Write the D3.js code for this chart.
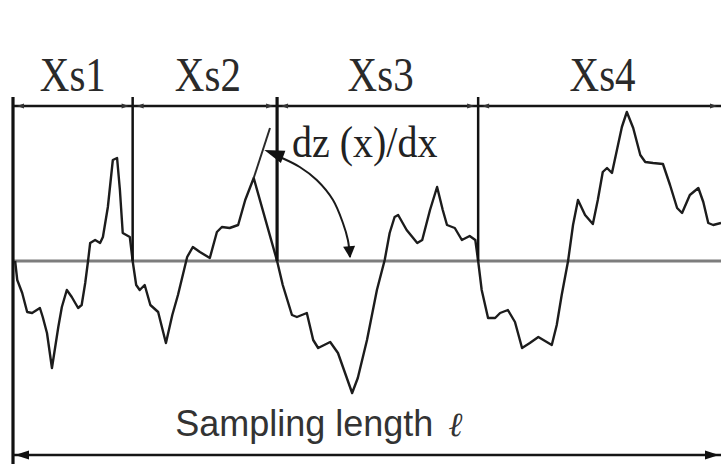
<!DOCTYPE html>
<html>
<head>
<meta charset="utf-8">
<script src="https://cdn.jsdelivr.net/npm/d3@7"></script>
<style>
  body { margin: 0; background: #fff; }
</style>
</head>
<body>
<script>
// segment labels and the zero up-crossings that bound them (x along sampling length, 0..100)
var segLabels = ["Xs1", "Xs2", "Xs3", "Xs4"];
var crossings = [0, 16.9, 37.3, 65.7, 100];

// roughness profile z(x)
var profX = [0.3, 0.6, 1.3, 2.0, 2.7, 3.8, 4.2, 4.8, 5.5, 6.4, 6.9, 7.6, 8.3, 9.2, 9.7, 10.2, 10.6, 10.9, 11.6, 12.3,
  12.7, 13.4, 14.1, 14.7, 15.1, 15.5, 16.5, 16.9, 17.4, 17.9, 18.6, 19.4, 20.5, 21.6, 22.5, 23.3, 24.6, 25.4, 26.4,
  27.8, 28.8, 29.5, 30.6, 31.8, 32.8, 34.0, 37.3, 38.1, 39.4, 40.1, 41.5, 42.4, 43.1, 44.8, 45.9, 46.9, 47.9, 48.7,
  50.0, 51.4, 52.5, 53.2, 53.9, 54.4, 55.6, 57.1, 57.8, 58.9, 59.9, 60.7, 61.3, 62.4, 63.4, 64.5, 65.3, 65.7, 66.2,
  67.1, 68.1, 68.8, 69.9, 70.9, 71.9, 73.0, 74.2, 76.1, 76.8, 77.5, 78.4, 79.1, 79.8, 80.8, 81.9, 82.6, 83.3, 83.9,
  84.6, 85.3, 86.0, 86.7, 87.6, 88.6, 89.3, 90.4, 91.8, 92.8, 93.8, 94.5, 95.6, 96.8, 97.5, 98.2, 98.9, 100];
var profZ = [0, -1.9, -3.2, -5.1, -5.2, -4.7, -5.6, -7.2, -10.7, -6.6, -4.6, -2.9, -3.6, -4.7, -4.4, -2.2, 0, 1.8, 2.1, 1.8,
  2.4, 5.4, 10.1, 10.3, 7.1, 2.8, 2.4, 0, -2.4, -2.9, -2.4, -4.4, -5.1, -8.2, -5.4, -3.4, 0.4, 1.4, 0.9,
  0.3, 2.9, 3.4, 3.3, 3.6, 6.1, 8.3, 0, -2.4, -5.4, -5.6, -5.2, -7.9, -8.7, -8.1, -9.2, -11.2, -13.2, -11.7,
  -7.9, -2.9, 0.1, 2.8, 4.4, 4.6, 3.1, 1.8, 2.1, 5.1, 7.4, 5.1, 3.6, 3.3, 2.1, 2.5, 2.1, 0, -2.9,
  -5.7, -5.7, -5.2, -4.9, -6.1, -8.7, -8.2, -7.6, -8.4, -6.4, -3.4, 0, 3.6, 6.1, 4.6, 3.7, 6.1, 8.9, 9.3,
  8.8, 11.1, 13.4, 14.9, 13.3, 10.6, 9.9, 9.8, 9.7, 7.6, 5.3, 4.8, 6.6, 7.3, 5.9, 3.8, 3.6, 3.8];

// local slope (tangent) at the second peak, and the angle arrow
var tangentX = [34.0, 36.3];
var tangentZ = [8.3, 13.3];
var arcX = [38.0, 40.5, 42.9, 45.2, 46.6, 47.3, 47.6];
var arcZ = [10.3, 9.4, 8.1, 6.1, 3.8, 2.1, 0.4];

var slopeLabel = "dz (x)/dx";
var lengthLabel = "Sampling length";

var width = 721, height = 466;

var x = d3.scaleLinear().domain([0, 100]).range([13, 721]);
var y = d3.scaleLinear().domain([-20, 20]).range([461, 61]);

var svg = d3.select("body").append("svg")
  .attr("width", width)
  .attr("height", height)
  .style("display", "block");

svg.append("rect").attr("width", width).attr("height", height).attr("fill", "#fff");

var defs = svg.append("defs");
defs.append("marker")
  .attr("id", "arr")
  .attr("viewBox", "0 -5 10 10")
  .attr("refX", 9).attr("refY", 0)
  .attr("markerUnits", "userSpaceOnUse")
  .attr("markerWidth", 16).attr("markerHeight", 12)
  .attr("orient", "auto-start-reverse")
  .append("path").attr("d", "M0,-5L10,0L0,5Z").attr("fill", "#111");

function arrowHead(tipX, tipY, dir, len, half) {
  // dir = -1 pointing left, +1 pointing right
  var bx = tipX - dir * len;
  return "M" + tipX + "," + tipY + "L" + bx + "," + (tipY - half) + "L" + bx + "," + (tipY + half) + "Z";
}

var zTop = 15.5, zBar = 16.4, zLabel = 17.0, zBottom = -19.4, zLeftEnd = -20.3;

// mean line
svg.append("line")
  .attr("x1", x(0)).attr("x2", x(100))
  .attr("y1", y(0)).attr("y2", y(0))
  .attr("stroke", "#7d7d7d").attr("stroke-width", 3);

// profile
var line = d3.line().x(function(d) { return x(d[0]); }).y(function(d) { return y(d[1]); });
var prof = profX.map(function(v, i) { return [v, profZ[i]]; });
svg.append("path")
  .attr("d", line(prof))
  .attr("fill", "none")
  .attr("stroke", "#1c1c1c")
  .attr("stroke-width", 2.4)
  .attr("stroke-linejoin", "round");

svg.append("path")
  .attr("d", line(tangentX.map(function(v, i) { return [v, tangentZ[i]]; })))
  .attr("fill", "none").attr("stroke", "#2a2a2a").attr("stroke-width", 2);

// segment boundaries
svg.selectAll("line.bound")
  .data(crossings.slice(0, 4))
  .enter().append("line")
  .attr("class", "bound")
  .attr("x1", function(d) { return x(d); })
  .attr("x2", function(d) { return x(d); })
  .attr("y1", y(zBar))
  .attr("y2", function(d, i) { return i === 0 ? y(zLeftEnd) : y(0); })
  .attr("stroke", "#111")
  .attr("stroke-width", function(d, i) { return i === 0 || i === 2 ? 3.2 : 2.5; });

// top dimension line
svg.append("line")
  .attr("x1", x(0)).attr("x2", x(100))
  .attr("y1", y(zTop)).attr("y2", y(zTop))
  .attr("stroke", "#151515").attr("stroke-width", 2.5);

crossings.slice(0, 4).forEach(function(c, i) {
  var a = x(c), b = x(crossings[i + 1]);
  svg.append("path").attr("d", arrowHead(a + 4, y(zTop), -1, 7, 2.5)).attr("fill", "#333");
  svg.append("path").attr("d", arrowHead(b - 4, y(zTop), 1, 7, 2.5)).attr("fill", "#333");
});

// segment labels
svg.selectAll("text.seg")
  .data(segLabels)
  .enter().append("text")
  .attr("class", "seg")
  .attr("transform", function(d, i) {
    var cx = (x(crossings[i]) + x(crossings[i + 1])) / 2 + (i === 0 ? 0 : 3);
    return "translate(" + cx + "," + y(zLabel) + ") scale(1,1.2)";
  })
  .attr("text-anchor", "middle")
  .attr("font-family", "'Liberation Serif', 'Times New Roman', serif")
  .attr("font-size", 41)
  .attr("fill", "#2a2a2a")
  .text(function(d) { return d; });

// angle arrow
var arcLine = d3.line().curve(d3.curveCatmullRom)
  .x(function(d) { return x(d[0]); }).y(function(d) { return y(d[1]); });
svg.append("path")
  .attr("d", arcLine(arcX.map(function(v, i) { return [v, arcZ[i]]; })))
  .attr("fill", "none").attr("stroke", "#1a1a1a").attr("stroke-width", 2)
  .attr("marker-end", "url(#arr)");
svg.append("path")
  .attr("d", arrowHead(x(35.5), y(11.1), -1, 20, 6.5))
  .attr("transform", "rotate(20," + x(35.5) + "," + y(11.1) + ")")
  .attr("fill", "#111");

svg.append("text")
  .attr("transform", "translate(" + x(39.4) + "," + y(10.4) + ") scale(1,1.12)")
  .attr("font-family", "'Liberation Serif', 'Times New Roman', serif")
  .attr("font-size", 40)
  .attr("fill", "#222")
  .text(slopeLabel);

// sampling length
svg.append("line")
  .attr("x1", x(0)).attr("x2", x(100))
  .attr("y1", y(zBottom)).attr("y2", y(zBottom))
  .attr("stroke", "#151515").attr("stroke-width", 2.5);
svg.append("path").attr("d", arrowHead(x(0) + 2, y(zBottom), -1, 14, 4.5)).attr("fill", "#111");
svg.append("path").attr("d", arrowHead(x(100) - 2, y(zBottom), 1, 14, 4.5)).attr("fill", "#111");

var lt = svg.append("text")
  .attr("x", x(22.9)).attr("y", y(-17.5))
  .attr("font-family", "'Liberation Sans', Arial, sans-serif")
  .attr("font-size", 36)
  .attr("fill", "#333");
lt.append("tspan").text(lengthLabel);
lt.append("tspan")
  .attr("dx", 15)
  .attr("font-family", "'DejaVu Serif', serif")
  .attr("font-style", "italic")
  .attr("font-size", 34)
  .text("\u2113");
</script>
</body>
</html>
